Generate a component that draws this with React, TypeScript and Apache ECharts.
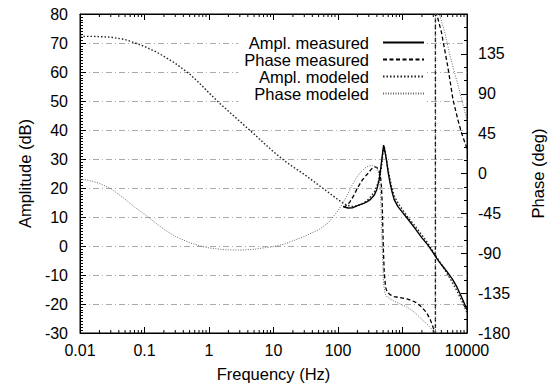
import React, { useEffect, useRef } from "react";
import * as echarts from "echarts";

// ---- tick labels ----
const xTickLabels = ["0.01", "0.1", "1", "10", "100", "1000", "10000"];
const ampTicks = [-30, -20, -10, 0, 10, 20, 30, 40, 50, 60, 70, 80];
const phaseTicks = [-180, -135, -90, -45, 0, 45, 90, 135, 180];

// ---- series: Ampl. modeled ----
const fAmplModeled = [0.01, 0.015, 0.02, 0.03, 0.05, 0.07, 0.1, 0.15, 0.2, 0.3, 0.5, 0.7, 1, 1.5, 2, 3, 5, 7, 10, 15, 20, 30, 50, 70, 100, 120, 140, 170, 200, 250, 300, 366, 420, 470, 500, 520, 545, 580, 620, 680, 743, 850, 1000, 1200, 1500, 2000, 2500, 3000, 4000, 5000, 6000, 7000, 8000, 9000, 10000];
const amplModeled = [72.3, 72.3, 72.2, 72.0, 71.2, 70.1, 68.8, 67.0, 65.4, 63.0, 59.3, 56.3, 52.8, 49.0, 46.5, 43.0, 38.6, 35.6, 32.5, 29.3, 27.3, 24.7, 21.0, 18.6, 16.0, 14.8, 14.0, 13.6, 13.9, 14.8, 16.2, 18.6, 21.8, 27.0, 32.5, 34.5, 32.0, 28.0, 24.5, 20.3, 17.4, 14.8, 12.5, 10.0, 7.4, 3.8, 0.8, -2.0, -6.3, -9.8, -12.8, -15.5, -18.2, -20.6, -23.0];

// ---- series: Ampl. measured ----
const fAmplMeasured = [120, 142, 170, 205, 250, 280, 320, 366, 400, 440, 473, 495, 510, 540, 570, 600, 637, 690, 743, 850, 1000, 1200, 1500, 2000, 2500, 3000, 3500, 4000, 5000, 6000, 7000, 8000, 9000, 10000];
const amplMeasured = [13.6, 13.1, 13.2, 14.0, 14.7, 15.2, 16.1, 17.6, 19.5, 23.4, 29.0, 32.6, 34.8, 32.0, 29.0, 25.3, 22.0, 18.6, 16.0, 13.6, 11.6, 9.4, 6.6, 2.8, 0.2, -2.4, -4.7, -6.4, -9.1, -11.6, -14.2, -17.0, -19.6, -22.0];

// ---- series: Phase measured (deg, wrapped) ----
const fPhaseMeasured = [120, 128, 150, 175, 205, 240, 290, 330, 366, 400, 440, 460, 474, 485, 494, 505, 520, 545, 580, 650, 743, 900, 1170, 1400, 1660, 2000, 2360, 2700, 3000, 3240, 3240, 3500, 4000, 5000, 6080, 7260, 8300, 10000];
const phaseMeasured = [-37, -37.5, -33, -25, -15, -7, 0, 5, 7.5, 7, 2, -6, -17, -35, -58, -85, -110, -128, -134, -137, -139, -140, -141.5, -143.5, -146, -151, -157, -165, -174, -180, 180, 176, 160, 122, 83, 60, 45, 28];

// ---- series: Phase modeled (deg, wrapped) ----
const fPhaseModeled = [0.01, 0.015, 0.02, 0.03, 0.05, 0.07, 0.1, 0.15, 0.2, 0.3, 0.5, 0.7, 1, 1.5, 2, 3, 5, 7, 10, 15, 20, 30, 50, 70, 100, 120, 140, 163, 185, 205, 230, 260, 300, 340, 390, 420, 440, 455, 470, 490, 510, 540, 580, 700, 900, 1170, 1500, 2120, 2600, 3000, 3240, 3240, 3800, 4500, 5500, 6500, 7260, 8500, 10000];
const phaseModeled = [-6, -8.5, -11, -17, -29, -38, -46, -56, -63, -71, -78, -81.5, -84, -85.5, -86.2, -86.5, -85.5, -84, -82.5, -79.5, -76, -71, -63.5, -56, -42, -33, -24, -14, -7, -2, 2.5, 6, 8.5, 9.2, 7.5, 2, -6, -20, -50, -95, -125, -136, -139.5, -143, -147, -150.7, -156, -166.5, -172.5, -177.5, -180, 180, 178, 160, 132, 112, 100, 80, 60];

// minor tick positions on the log axis (2..9 x each decade)
const minorTickFreqs: number[] = [];
for (let e = -2; e < 4; e++) for (let m = 2; m <= 9; m++) minorTickFreqs.push(m * Math.pow(10, e));

const zip = (xs: number[], ys: number[]) => xs.map((x, i) => [x, ys[i]]);

const FONT = "'Liberation Sans', Arial, Helvetica, sans-serif";

export default function App() {
  const ref = useRef<HTMLDivElement>(null);
  useEffect(() => {
    const chart = echarts.init(ref.current!, null, { renderer: "svg" });
    const labelStyle = { color: "#000", fontSize: 16, fontFamily: FONT };
    const nameStyle = { color: "#000", fontSize: 16.5, fontFamily: FONT };
    const fmtX = (v: number) => {
      const i = Math.round(Math.log10(v)) + 2;
      return xTickLabels[i] ?? "";
    };
    const axisLineStyle = { show: true, onZero: false, lineStyle: { color: "#000", width: 1 } };
    const option: any = {
      animation: false,
      backgroundColor: "#fff",
      grid: { left: 80, right: 80, top: 14, bottom: 54, show: true, borderColor: "#000", borderWidth: 1, backgroundColor: "transparent" },
      legend: {
        data: ["Ampl. measured", "Phase measured", "Ampl. modeled", "Phase modeled"],
        orient: "vertical",
        right: 127,
        top: 32,
        z: 1,
        align: "right",
        itemWidth: 41,
        itemHeight: 10,
        itemGap: 0,
        padding: [2, 2, 2, 6],
        backgroundColor: "#fff",
        selectedMode: false,
        itemStyle: { opacity: 0 },
        formatter: (n: string) => "{t|" + n + "}",
        textStyle: {
          color: "#000", fontSize: 16.5, fontFamily: FONT, lineHeight: 17,
          rich: { t: { color: "#000", fontSize: 16.5, fontFamily: FONT, lineHeight: 17, padding: [0, 9, 0, 0] } },
        },
      },
      xAxis: [
        {
          type: "log", logBase: 10, min: 0.01, max: 10000, splitNumber: 6, position: "bottom", gridIndex: 0,
          axisLine: axisLineStyle,
          axisTick: { show: true, inside: true, length: 6, lineStyle: { color: "#000" } },
          axisLabel: { ...labelStyle, margin: 9, formatter: fmtX },
          splitLine: { show: false },
          name: "Frequency (Hz)", nameLocation: "middle", nameGap: 32, nameTextStyle: nameStyle,
        },
        {
          type: "log", logBase: 10, min: 0.01, max: 10000, splitNumber: 6, position: "top", gridIndex: 0,
          axisLine: axisLineStyle,
          axisTick: { show: true, inside: true, length: 6, lineStyle: { color: "#000" } },
          axisLabel: { show: false },
          splitLine: { show: false },
        },
      ],
      yAxis: [
        {
          type: "value", min: ampTicks[0], max: ampTicks[ampTicks.length - 1], interval: 10, position: "left",
          axisLine: axisLineStyle,
          axisTick: { show: true, inside: true, length: 6, lineStyle: { color: "#000" } },
          minorTick: { show: true, splitNumber: 10, length: 3, lineStyle: { color: "#000" } },
          axisLabel: { ...labelStyle, margin: 12 },
          splitLine: { show: true, lineStyle: { color: "#aaa", width: 1, type: [6, 3, 1, 3] } },
          name: "Amplitude (dB)", nameLocation: "middle", nameGap: 45, nameRotate: 90, nameTextStyle: nameStyle,
        },
        {
          type: "value", min: phaseTicks[0], max: phaseTicks[phaseTicks.length - 1], interval: 45, position: "right",
          axisLine: axisLineStyle,
          axisTick: { show: true, inside: true, length: 6, lineStyle: { color: "#000" } },
          minorTick: { show: true, splitNumber: 3, length: 3, lineStyle: { color: "#000" } },
          axisLabel: { ...labelStyle, margin: 11, formatter: (v: number) => (v === 180 ? "" : String(v)) },
          splitLine: { show: false },
          name: "Phase (deg)", nameLocation: "middle", nameGap: 62, nameRotate: 90, nameTextStyle: nameStyle,
        },
      ],
      series: [
        {
          name: "ticks", type: "custom", xAxisIndex: 0, yAxisIndex: 0, silent: true, clip: false, z: 5,
          data: minorTickFreqs.map((f) => [f, 0]),
          renderItem: (_p: any, api: any) => {
            const f = api.value(0);
            const b = api.coord([f, ampTicks[0]]);
            const t = api.coord([f, ampTicks[ampTicks.length - 1]]);
            return {
              type: "group",
              children: [
                { type: "line", shape: { x1: b[0], y1: b[1], x2: b[0], y2: b[1] - 3 }, style: { stroke: "#000", lineWidth: 1 } },
                { type: "line", shape: { x1: t[0], y1: t[1], x2: t[0], y2: t[1] + 3 }, style: { stroke: "#000", lineWidth: 1 } },
              ],
            };
          },
        },
        {
          name: "Ampl. measured", type: "line", xAxisIndex: 0, yAxisIndex: 0, symbol: "none", z: 4,
          data: zip(fAmplMeasured, amplMeasured), color: "#000",
          lineStyle: { color: "#000", width: 1.4, type: "solid" },
        },
        {
          name: "Phase measured", type: "line", xAxisIndex: 0, yAxisIndex: 1, symbol: "none", z: 3,
          data: zip(fPhaseMeasured, phaseMeasured), color: "#000",
          lineStyle: { color: "#000", width: 1.3, type: [4, 2.5] },
        },
        {
          name: "Ampl. modeled", type: "line", xAxisIndex: 0, yAxisIndex: 0, symbol: "none", z: 3,
          data: zip(fAmplModeled, amplModeled), color: "#222",
          lineStyle: { color: "#222", width: 1.4, type: [1.5, 2] },
        },
        {
          name: "Phase modeled", type: "line", xAxisIndex: 0, yAxisIndex: 1, symbol: "none", z: 3,
          data: zip(fPhaseModeled, phaseModeled), color: "#666",
          lineStyle: { color: "#666", width: 1, type: [1, 1.5] },
        },
      ],
    };
    chart.setOption(option);
    return () => chart.dispose();
  }, []);
  return <div ref={ref} style={{ position: "fixed", left: 0, top: 0, width: 554, height: 387 }} />;
}
